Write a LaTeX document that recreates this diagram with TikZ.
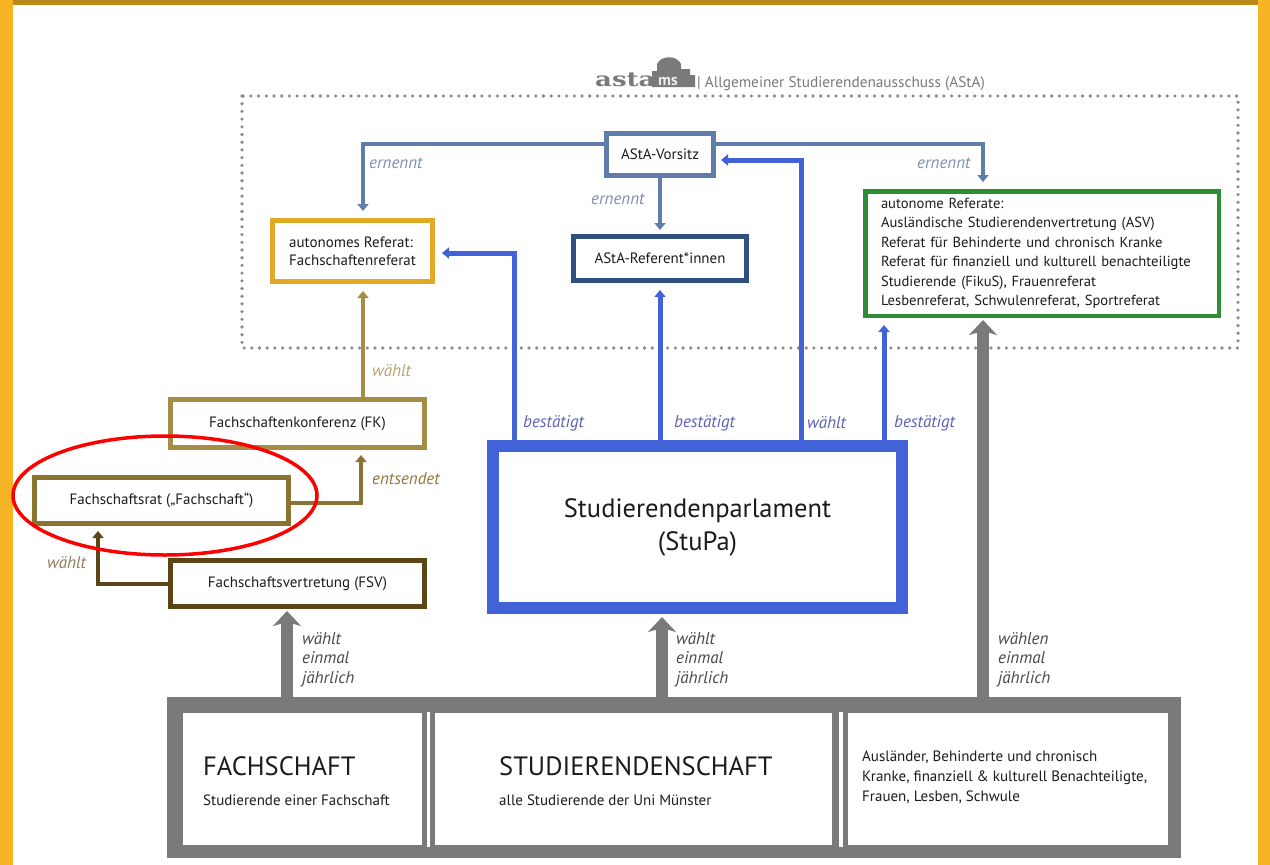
\documentclass[tikz,border=0pt]{standalone}
\usepackage{fontspec}
\setmainfont{PT Sans}
\newfontfamily\logofont{DejaVu Serif}[FakeStretch=1.3]
\usetikzlibrary{arrows.meta}
\definecolor{frameOr}{HTML}{F7B526}
\definecolor{frameTop}{HTML}{B98A1A}
\definecolor{dotGray}{HTML}{8C8C8C}
\definecolor{steel}{HTML}{5F7DA9}
\definecolor{steelTxt}{HTML}{7E90AE}
\definecolor{refDark}{HTML}{30507F}
\definecolor{frefGold}{HTML}{E2A826}
\definecolor{grn}{HTML}{2F8D36}
\definecolor{stuBlue}{HTML}{4262D8}
\definecolor{blueTxt}{HTML}{5A62B6}
\definecolor{fkOlive}{HTML}{A68D47}
\definecolor{fsrOlive}{HTML}{8A7331}
\definecolor{fsvBrown}{HTML}{5C4515}
\definecolor{boxGray}{HTML}{7A7A7A}
\definecolor{txt}{HTML}{1C1C1C}
\tikzset{
  box/.style={draw, fill=white, inner sep=0pt, align=center, text=txt,
    font=\fontsize{15}{18}\selectfont},
  lbl/.style={inner sep=0pt, anchor=west, font=\itshape\fontsize{17}{19.5}\selectfont},
  tipS/.style={-{Triangle[width=11pt,length=7pt]}, shorten >=7pt},
  conn/.style={line width=4.4pt, tipS},
  grayarrow/.style={draw=boxGray, line width=12pt,
    -{Stealth[width=28pt,length=15pt,inset=4pt]}},
  plain/.style={inner sep=0pt, anchor=base west, text=txt}
}
\begin{document}
\begin{tikzpicture}[x=1pt,y=-1pt]
\useasboundingbox (0,0) rectangle (1270,865);
% background frame
\fill[frameOr] (0,0) rectangle (1270,865);
\fill[frameTop] (0,0) rectangle (1270,5);
\fill[frameOr] (0,0) rectangle (13,865);
\fill[frameOr] (1258,0) rectangle (1270,865);
\fill[white] (13,5) rectangle (1258,865);

% AStA dotted frame
\draw[dotGray, line width=3.6pt, line cap=round, dash pattern=on 0pt off 7.7pt]
  (242,96) rectangle (1238,348);

% logo and title
\node[inner sep=0pt, anchor=base west, text=boxGray, font=\logofont\bfseries\fontsize{20}{21}\selectfont] (logo) at (595,86) {asta};
\fill[boxGray] (652,87) -- (652,71) -- (657,71) -- (657,64) .. controls (661,55) and (677,55) .. (681,64) -- (681,69) -- (690,69) -- (690,75) -- (695,75) -- (695,87) -- cycle;
\node[inner sep=0pt, anchor=base west, text=white!85!gray, font=\bfseries\fontsize{16}{17}\selectfont] (logoms) at (658,85) {ms};
\node[inner sep=0pt, anchor=base west, text=boxGray, font=\fontsize{15.3}{17}\selectfont] (title) at (697,87) {| Allgemeiner Studierendenausschuss (AStA)};

% bottom gray frame
\fill[boxGray] (167,697) rectangle (1181,858);
\node[fill=white, inner sep=0pt, minimum width=239pt, minimum height=132pt] (bx1) at (302.5,779) {};
\node[fill=white, inner sep=0pt, minimum width=397pt, minimum height=132pt] (bx2) at (633.5,779) {};
\node[fill=white, inner sep=0pt, minimum width=320pt, minimum height=132pt] (bx3) at (1008,779) {};
\fill[white] (426.5,712) rectangle (430,847);
\fill[white] (838.5,712) rectangle (842.5,847);

\node[plain, font=\fontsize{26.5}{28}\selectfont] (t1) at (203,775) {FACHSCHAFT};
\node[plain, font=\fontsize{15}{17}\selectfont] (t1s) at (203,805) {Studierende einer Fachschaft};
\node[plain, font=\fontsize{26.5}{28}\selectfont] (t2) at (499,775) {STUDIERENDENSCHAFT};
\node[plain, font=\fontsize{15}{17}\selectfont] (t2s) at (499,805) {alle Studierende der Uni Münster};
\node[plain, font=\fontsize{15}{20}\selectfont, align=left, anchor=north west] (t3) at (862,751)
  {Ausländer, Behinderte und chronisch\\Kranke, finanziell \& kulturell Benachteiligte,\\Frauen, Lesben, Schwule};

% boxes
\node[box, draw=steel, line width=5pt, minimum width=107pt, minimum height=42pt] (vors) at (660,154.5) {AStA-Vorsitz};
\node[box, draw=refDark, line width=5pt, minimum width=173pt, minimum height=44pt] (refs) at (660,258.5) {AStA-Referent*innen};
\node[box, draw=frefGold, line width=5pt, minimum width=160pt, minimum height=61pt, align=left] (fref) at (352.5,251)
  {autonomes Referat:\\Fachschaftenreferat};
\node[box, draw=grn, line width=4.5pt, minimum width=353.5pt, minimum height=124.5pt, text width=322pt,
  align=left, font=\fontsize{14.6}{19.5}\selectfont] (auto) at (1042,253.5)
  {autonome Referate:\\Ausländische Studierendenvertretung (ASV)\\Referat für Behinderte und chronisch Kranke\\Referat für finanziell und kulturell benachteiligte\\Studierende (FikuS), Frauenreferat\\Lesbenreferat, Schwulenreferat, Sportreferat};
\node[box, draw=stuBlue, line width=12pt, minimum width=409pt, minimum height=162pt,
  font=\fontsize{26.5}{33}\selectfont] (stupa) at (697.5,527) {Studierendenparlament\\(StuPa)};
\node[box, draw=fkOlive, line width=5pt, minimum width=254pt, minimum height=48pt] (fk) at (297.5,423.5) {Fachschaftenkonferenz (FK)};
\node[box, draw=fsrOlive, line width=5pt, minimum width=254pt, minimum height=46pt] (fsr) at (161.5,500.5) {Fachschaftsrat („Fachschaft“)};
\node[box, draw=fsvBrown, line width=5pt, minimum width=254pt, minimum height=46pt] (fsv) at (297.5,583.5) {Fachschaftsvertretung (FSV)};

% steel connectors (ernennt)
\draw[conn, steel] (vors.west |- 0,144) -| (363,0 |- fref.north);
\draw[conn, steel] (vors.east |- 0,144) -| (983,0 |- auto.north);
\draw[conn, steel, shorten >=4pt] (vors.south) -- (refs.north);
\node[lbl, text=steelTxt] (e1) at (369,163) {ernennt};
\node[lbl, text=steelTxt] (e2) at (591,199) {ernennt};
\node[lbl, text=steelTxt] (e3) at (917,163) {ernennt};

% blue connectors from StuPa
\draw[conn, stuBlue, line width=5pt] (514,0 |- stupa.north) |- (fref.east |- 0,253);
\draw[conn, stuBlue, line width=5pt] (660,0 |- stupa.north) -- (660,0 |- refs.south);
\draw[conn, stuBlue, line width=5pt, shorten >=5pt] (801.5,0 |- stupa.north) |- (vors.east |- 0,160);
\draw[conn, stuBlue, line width=5pt] (884,0 |- stupa.north) -- (884,0 |- auto.south);
\node[lbl, text=blueTxt] (b1) at (523,423) {bestätigt};
\node[lbl, text=blueTxt] (b2) at (674,423) {bestätigt};
\node[lbl, text=blueTxt] (b3) at (807,423) {wählt};
\node[lbl, text=blueTxt] (b4) at (894,423) {bestätigt};

% Fachschaft chain
\draw[conn, fkOlive, line width=4pt] (363,0 |- fk.north) -- (363,0 |- fref.south);
\draw[conn, fsrOlive, line width=4pt, shorten >=5pt] (fsr.east |- 0,503) -| (361,0 |- fk.south);
\draw[conn, fsvBrown, line width=4pt, shorten >=5pt] (fsv.west |- 0,584) -| (98,0 |- fsr.south);
\node[lbl, text=fkOlive!80!white] (w1) at (372,371) {wählt};
\node[lbl, text=fkOlive!85!black] (w2) at (372,479) {entsendet};
\node[lbl, text=fsvBrown!70!white] (w3) at (47,563) {wählt};

% red highlight ellipse
\draw[red, line width=3.5pt] (165,495.5) ellipse [x radius=152, y radius=59.5];

% gray election arrows
\coordinate (g1) at (287,700);
\coordinate (g2) at (662,700);
\coordinate (g3) at (983,700);
\draw[grayarrow, shorten >=2pt] (g1) -- (g1 |- fsv.south);
\draw[grayarrow, shorten >=3pt] (g2) -- (g2 |- stupa.south);
\draw[grayarrow, shorten >=2pt] (g3) -- (g3 |- auto.south);
\node[lbl, text=txt!80!white, align=left, anchor=north west] (l1) at (302,632) {wählt\\einmal\\jährlich};
\node[lbl, text=txt!80!white, align=left, anchor=north west] (l2) at (676,632) {wählt\\einmal\\jährlich};
\node[lbl, text=txt!80!white, align=left, anchor=north west] (l3) at (998,632) {wählen\\einmal\\jährlich};
\end{tikzpicture}
\end{document}
